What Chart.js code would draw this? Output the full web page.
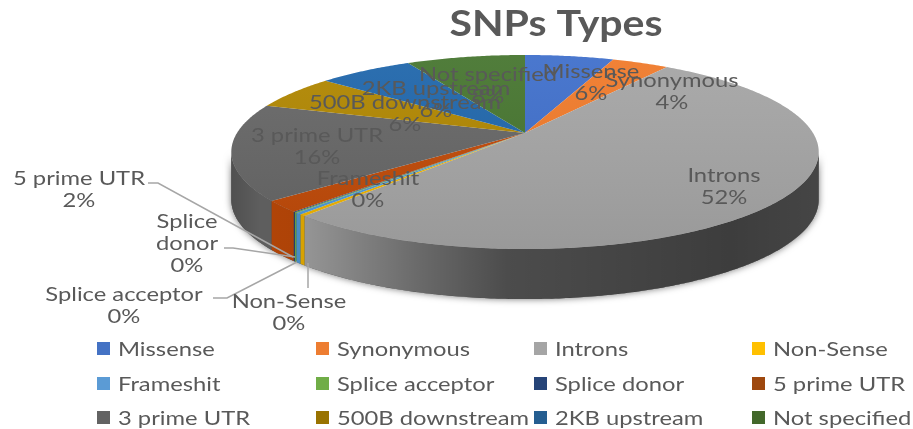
<!DOCTYPE html>
<html>
<head>
<meta charset="utf-8">
<title>SNPs Types</title>
<script src="https://cdn.jsdelivr.net/npm/chart.js@4"></script>
<style>
  html, body { margin: 0; background: #fff; }
  canvas { display: block; filter: blur(0.6px); }
</style>
</head>
<body>
<canvas id="chart" width="913" height="429"></canvas>
<script>
const categories = ['Missense', 'Synonymous', 'Introns', 'Non-Sense', 'Frameshit', 'Splice acceptor',
  'Splice donor', '5 prime UTR', '3 prime UTR', '500B downstream', '2KB upstream', 'Not specified'];
const shares = [5.9, 3.8, 51.6, 0.3, 0.3, 0.1, 0.1, 1.9, 16, 5.8, 6.3, 7.9];
const sliceColors = ['#3f6fcb', '#f07a2a', '#a5a5a5', '#f0b400', '#4f9bd8', '#70ad47',
  '#264478', '#c04a08', '#666666', '#b08600', '#1f66ab', '#46752f'];
const legendColors = ['#4472c4', '#ed7d31', '#a5a5a5', '#ffc000', '#5b9bd5', '#70ad47',
  '#264478', '#9e480e', '#636363', '#997300', '#255e91', '#43682b'];

// where each data label goes, name lines then the percent line below
const labelSpots = [
  { x: 591, y: 70 }, { x: 672, y: 79 }, { x: 724, y: 174 }, { x: 289, y: 300 },
  { x: 368, y: 177 }, { x: 124, y: 293 }, { x: 187, y: 220, lines: ['Splice', 'donor'] }, { x: 79, y: 177 },
  { x: 317, y: 134 }, { x: 405, y: 101 }, { x: 436, y: 87 }, { x: 488, y: 73 }
];
const leaders = [
  [[148, 183], [158, 183], [293, 257]],
  [[224, 248], [233, 248], [295, 257]],
  [[213, 298], [227, 298], [297, 262]],
  [[308, 288], [308, 263]]
];
const legendX = [97, 316, 534, 752];
const legendY = [348, 383, 417];

// perspective of the tilted disc
const pieX = 525, pieY = 133, spreadX = 288, spreadY = 93.3, tilt = 0.196;
function project(a) {
  const u = Math.cos(a), v = Math.sin(a), w = 1 - tilt * v;
  return [pieX + spreadX * u / w, pieY + spreadY * v / w, v];
}
function wallDepth(v) { return 47 + 3 * Math.max(v, 0); }

function stretchedText(ctx, text, x, y, size, weight, sx, align) {
  ctx.save();
  ctx.translate(x, y + 1.5);
  ctx.scale(sx, 1);
  ctx.font = `${weight} ${size}px Lato, sans-serif`;
  ctx.textAlign = align;
  ctx.textBaseline = 'middle';
  ctx.fillStyle = '#595959';
  ctx.fillText(text, 0, 0);
  ctx.restore();
}

function edgePoints(a0, a1) {
  const pts = [];
  const n = Math.max(2, Math.ceil((a1 - a0) / 0.01));
  for (let i = 0; i <= n; i++) pts.push(project(a0 + (a1 - a0) * i / n));
  return pts;
}

function wallPath(ctx, a0, a1) {
  const pts = edgePoints(a0, a1);
  ctx.beginPath();
  pts.forEach((p, i) => i ? ctx.lineTo(p[0], p[1]) : ctx.moveTo(p[0], p[1]));
  pts.slice().reverse().forEach(p => ctx.lineTo(p[0], p[1] + wallDepth(p[2])));
  ctx.closePath();
}

const disc3d = {
  id: 'disc3d',
  beforeDatasetDraw() { return false; }, // arcs are round, they get drawn in perspective below
  afterDatasetsDraw(chart) {
    const ctx = chart.ctx;
    const arcs = chart.getDatasetMeta(0).data;
    const frontA = Math.asin(tilt), frontB = Math.PI - frontA;

    // soft shadow + walls
    ctx.save();
    ctx.shadowColor = 'rgba(0,0,0,0.55)';
    ctx.shadowBlur = 7;
    wallPath(ctx, frontA, frontB);
    ctx.fillStyle = '#555';
    ctx.fill();
    ctx.restore();

    arcs.forEach((arc, i) => {
      const a0 = Math.max(arc.startAngle, frontA), a1 = Math.min(arc.endAngle, frontB);
      if (a1 <= a0) return;
      wallPath(ctx, a0, a1);
      ctx.fillStyle = sliceColors[i];
      ctx.fill();
    });
    const shade = ctx.createLinearGradient(231, 0, 819, 0);
    shade.addColorStop(0, 'rgba(0,0,0,0.22)');
    shade.addColorStop(0.05, 'rgba(0,0,0,0.08)');
    shade.addColorStop(0.13, 'rgba(0,0,0,0.1)');
    shade.addColorStop(0.32, 'rgba(0,0,0,0.36)');
    shade.addColorStop(0.47, 'rgba(0,0,0,0.54)');
    shade.addColorStop(0.85, 'rgba(0,0,0,0.63)');
    shade.addColorStop(1, 'rgba(0,0,0,0.58)');
    wallPath(ctx, frontA, frontB);
    ctx.fillStyle = shade;
    ctx.fill();

    // top face
    arcs.forEach((arc, i) => {
      ctx.beginPath();
      ctx.moveTo(pieX, pieY);
      edgePoints(arc.startAngle, arc.endAngle).forEach(p => ctx.lineTo(p[0], p[1]));
      ctx.closePath();
      ctx.fillStyle = sliceColors[i];
      ctx.fill();
    });
    const sheen = ctx.createLinearGradient(0, 55, 0, 249);
    sheen.addColorStop(0, 'rgba(255,255,255,0.06)');
    sheen.addColorStop(1, 'rgba(0,0,0,0.07)');
    ctx.beginPath();
    edgePoints(0, Math.PI * 2).forEach((p, i) => i ? ctx.lineTo(p[0], p[1]) : ctx.moveTo(p[0], p[1]));
    ctx.closePath();
    ctx.fillStyle = sheen;
    ctx.fill();
  },
  afterDraw(chart) {
    const ctx = chart.ctx;
    const total = shares.reduce((s, v) => s + v, 0);

    ctx.strokeStyle = '#a6a6a6';
    ctx.lineWidth = 1.5;
    leaders.forEach(line => {
      ctx.beginPath();
      line.forEach((p, i) => i ? ctx.lineTo(p[0], p[1]) : ctx.moveTo(p[0], p[1]));
      ctx.stroke();
    });

    // data labels
    categories.forEach((name, i) => {
      const spot = labelSpots[i];
      const lines = (spot.lines || [name]).concat(Math.round(shares[i] / total * 100) + '%');
      lines.forEach((t, k) => stretchedText(ctx, t, spot.x, spot.y + k * 22, 19, 'normal', 1.25, 'center'));
    });

    // title
    stretchedText(ctx, 'SNPs Types', 556, 23, 36, 'bold', 1.14, 'center');

    // legend in a 4 column grid
    categories.forEach((name, i) => {
      const x = legendX[i % 4], y = legendY[Math.floor(i / 4)];
      ctx.fillStyle = legendColors[i];
      ctx.fillRect(x, y - 6, 13, 13);
      stretchedText(ctx, name, x + 21, y, 19, 'normal', 1.25, 'left');
    });
  }
};

new Chart(document.getElementById('chart'), {
  type: 'pie',
  data: {
    labels: categories,
    datasets: [{ data: shares, backgroundColor: sliceColors, borderWidth: 0 }]
  },
  options: {
    responsive: false,
    animation: false,
    plugins: {
      legend: { display: false },
      tooltip: { enabled: false },
      title: { display: false }
    }
  },
  plugins: [disc3d]
});
</script>
</body>
</html>
